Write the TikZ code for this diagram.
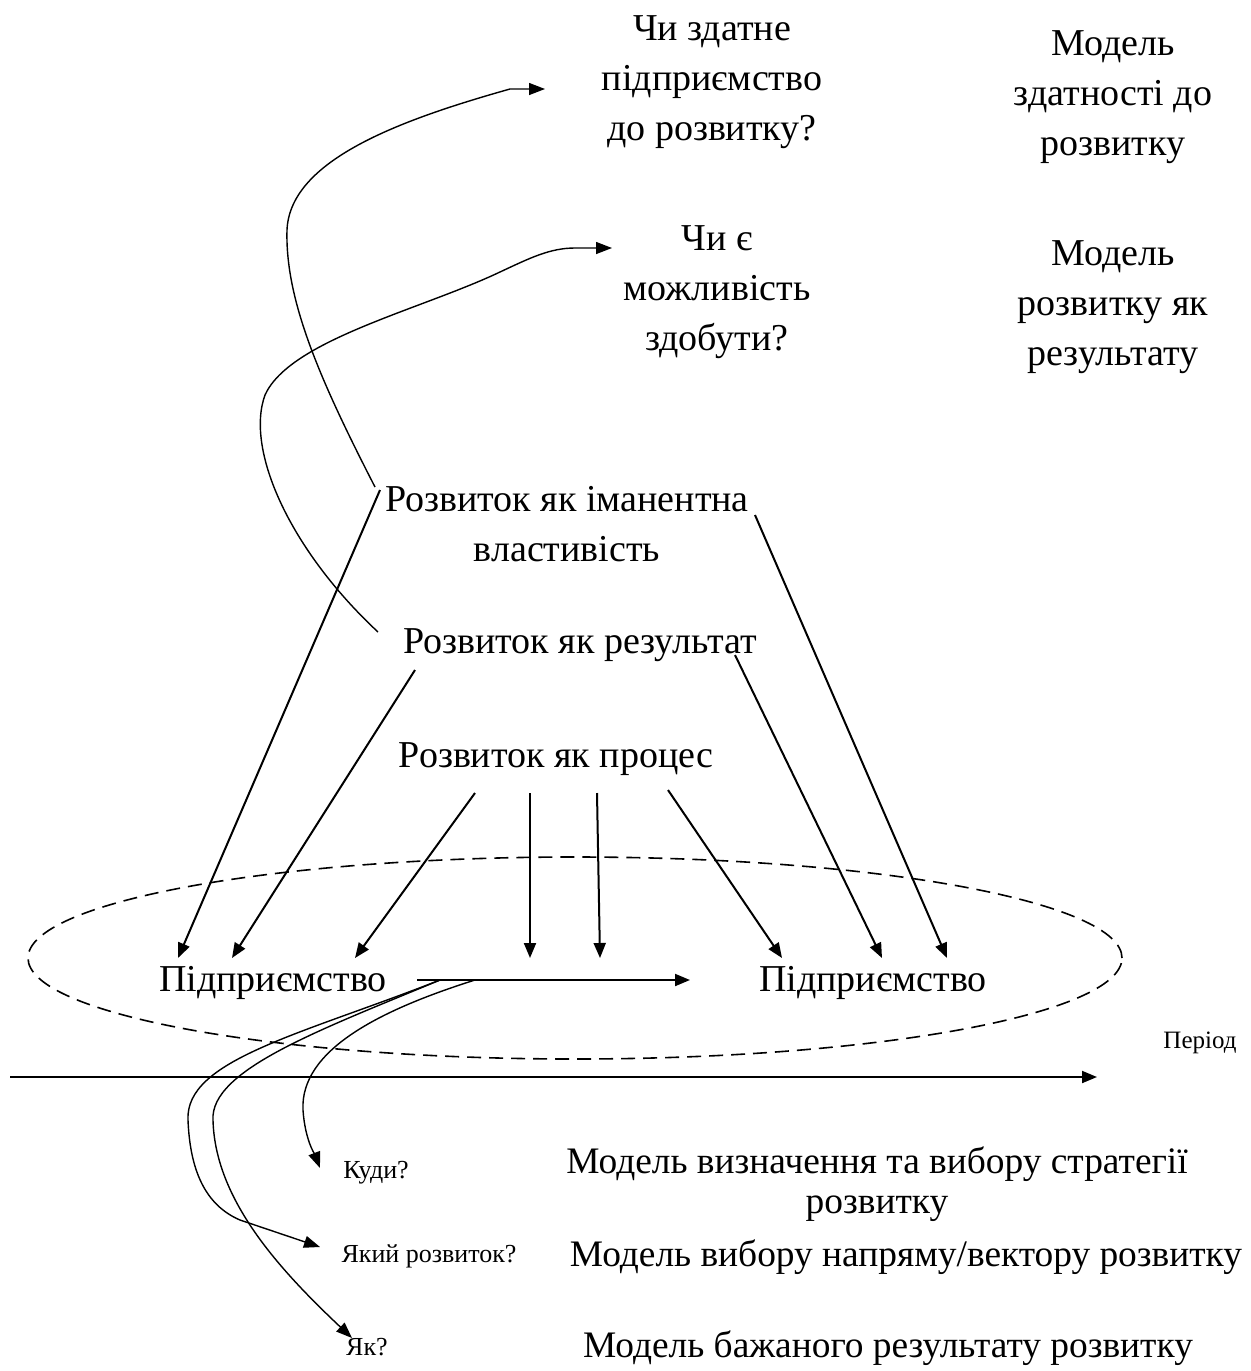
\documentclass[tikz,border=0pt]{standalone}
\usepackage{fontspec}
\setmainfont{Liberation Serif}
\usetikzlibrary{arrows.meta,calc}

\begin{document}
\begin{tikzpicture}[x=0.5pt,y=-0.5pt]
    % Define styles
    \tikzstyle{txt} = [align=center, inner sep=0pt, font=\fontsize{19}{25}\selectfont]
    \tikzstyle{model} = [align=center, inner sep=0pt, font=\fontsize{18.7}{20}\selectfont]
    \tikzstyle{small} = [inner sep=0pt, font=\fontsize{13}{15}\selectfont]
    \tikzstyle{arrow} = [line width=1pt, -{Triangle[length=7.5pt,width=6pt]}]
    \tikzstyle{curve} = [line width=0.7pt, -{Triangle[length=8pt,width=6pt]}]

    \useasboundingbox (0,0) rectangle (1251,1371);

    % Questions and models at the top
    \node [txt] (qcap) at (712,82) {Чи здатне\\підприємство\\до розвитку?};
    \node [txt] (mcap) at (1113,97) {Модель\\здатності до\\розвитку};
    \node [txt] (qopp) at (717,292) {Чи є\\можливість\\здобути?};
    \node [txt] (mres) at (1113,307) {Модель\\розвитку як\\результату};

    % Views of development
    \node [txt] (iman) at (567,524) {Розвиток як іманентна\\властивість};
    \node [txt] (rslt) at (580,645) {Розвиток як результат};
    \node [txt] (proc) at (556,759) {Розвиток як процес};

    % Enterprise in two states
    \node [txt] (entL) at (273,983) {Підприємство};
    \node [txt] (entR) at (873,983) {Підприємство};
    \draw [dashed, line width=0.8pt, dash pattern=on 7pt off 4pt] (575,958) ellipse [x radius=273.5pt, y radius=50.5pt];

    % Time axis
    \coordinate (t0) at (10,1077);
    \coordinate (t1) at (1097,1077);
    \draw [arrow] (t0) -- (t1);
    \node [small, font=\fontsize{12.5}{15}\selectfont] (period) at (1200,1043) {Період};

    % Questions and models at the bottom
    \node [small] (kudy) at (376,1173) {Куди?};
    \node [small] (yakyi) at (429,1256) {Який розвиток?};
    \node [small] (yak) at (367,1347) {Як?};
    \node [model] (mstr) at (877,1184) {Модель визначення та вибору стратегії\\розвитку};
    \node [model] (mvec) at (906,1257) {Модель вибору напряму/вектору розвитку};
    \node [model] (mdes) at (888,1348) {Модель бажаного результату розвитку};

    % Arrows down to the enterprise
    \draw [arrow] ($(iman)+(-187,-34)$) -- ($(entL)+(-95,-25)$);
    \draw [arrow] ($(rslt)+(-165,25)$) -- ($(entL)+(-41,-25)$);
    \draw [arrow] ($(proc)+(-81,34)$) -- ($(entL)+(82,-25)$);
    \draw [arrow] ($(proc)+(-26,34)$) -- ($(entL)+(257,-25)$);
    \draw [arrow] ($(proc)+(41,34)$) -- ($(entL)+(327,-25)$);
    \draw [arrow] ($(proc)+(112,31)$) -- ($(entR)+(-91,-25)$);
    \draw [arrow] ($(rslt)+(155,10)$) -- ($(entR)+(9,-25)$);
    \draw [arrow] ($(iman)+(188,-9)$) -- ($(entR)+(74,-25)$);
    \draw [arrow] ($(entL)+(144,-3)$) -- ($(entR)+(-183,-3)$);

    % Curves up to the questions
    \draw [curve] ($(iman)+(-192,-37)$) .. controls (320,380) and (285,300) .. (287,230)
        .. controls (290,160) and (400,120) .. (510,89) -- ($(qcap)+(-167,7)$);
    \draw [curve] ($(rslt)+(-202,-13)$) .. controls (290,550) and (245,450) .. (265,395)
        .. controls (290,340) and (420,310) .. (500,272)
        .. controls (530,258) and (550,248) .. (575,248) -- ($(qopp)+(-105,-44)$);

    % Curves down to the questions
    \draw [curve] ($(entL)+(202,-3)$) .. controls (380,1010) and (300,1050) .. (303,1110)
        .. controls (305,1140) and (315,1155) .. ($(kudy)+(-56,-5)$);
    \draw [curve] ($(entL)+(167,-3)$) .. controls (300,1035) and (185,1060) .. (188,1120)
        .. controls (190,1170) and (205,1205) .. (240,1220) -- ($(yakyi)+(-109,-9)$);
    \draw [curve] ($(entL)+(167,-3)$) .. controls (320,1030) and (210,1070) .. (213,1120)
        .. controls (215,1200) and (280,1270) .. ($(yak)+(-15,-9)$);
\end{tikzpicture}
\end{document}
